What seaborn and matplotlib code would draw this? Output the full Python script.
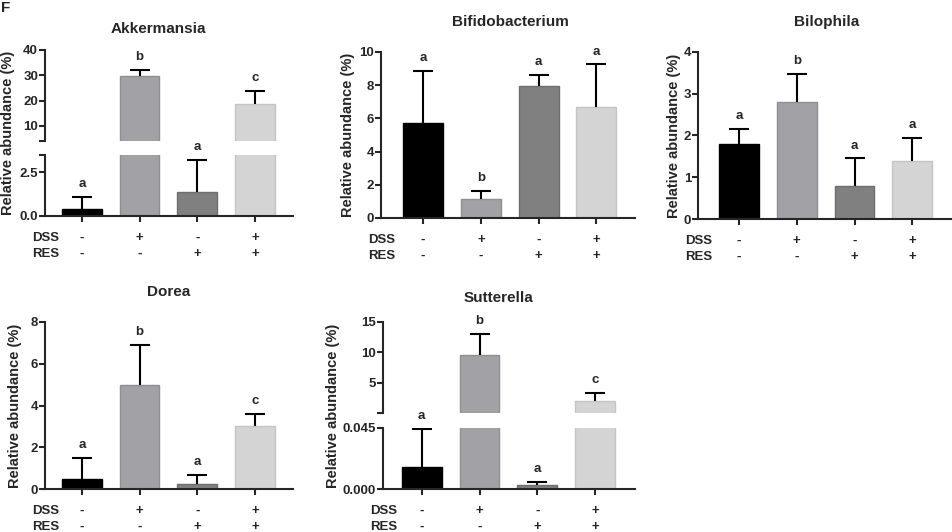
import matplotlib.pyplot as plt
import seaborn as sns
import numpy as np

# groups: control, DSS, RES, DSS+RES
conditions = ['ctrl', 'DSS', 'RES', 'DSS+RES']
dss_signs = ['-', '+', '-', '+']
res_signs = ['-', '-', '+', '+']
bar_colors = ['#000000', '#a1a1a6', '#808080', '#d4d4d4']
edge_colors = ['#000000', '#8e8e93', '#6e6e6e', '#c4c4c4']

# mean and upper SD
akk_mean = [0.4, 29.7, 1.4, 18.5]
akk_sd = [0.7, 2.3, 1.8, 5.3]
akk_letters = ['a', 'b', 'a', 'c']

bifi_mean = [5.75, 1.15, 7.95, 6.7]
bifi_sd = [3.1, 0.5, 0.65, 2.55]
bifi_letters = ['a', 'b', 'a', 'a']

bilo_mean = [1.8, 2.8, 0.8, 1.4]
bilo_sd = [0.35, 0.67, 0.65, 0.55]
bilo_letters = ['a', 'b', 'a', 'a']

dorea_mean = [0.5, 5.0, 0.25, 3.0]
dorea_sd = [1.0, 1.9, 0.4, 0.6]
dorea_letters = ['a', 'b', 'a', 'c']

sutt_mean = [0.0165, 9.5, 0.003, 1.95]
sutt_sd = [0.0275, 3.5, 0.0024, 1.35]
sutt_letters = ['a', 'b', 'a', 'c']

W, H = 952, 532
FONT = 'Liberation Sans'

sns.set_style('ticks')
plt.rcParams['font.family'] = [FONT, 'DejaVu Sans']
plt.rcParams['font.weight'] = 'bold'


def rect(l, t, r, b):
    # pixel box -> figure fraction
    return [l / W, 1 - b / H, (r - l) / W, (b - t) / H]


def draw_segment(fig, box, xlim, ylim, ticks, ticklabels, mean, sd, bottom):
    ax = fig.add_axes(rect(*box))
    ax.set_facecolor('none')
    sns.barplot(x=conditions, y=mean, hue=conditions, order=conditions,
                hue_order=conditions, palette=bar_colors, legend=False,
                width=0.69, saturation=1, errorbar=None, linewidth=1, ax=ax)
    for p, ec, m in zip(ax.patches, edge_colors, mean):
        p.set_edgecolor(ec)
        if m <= ylim[0]:
            p.set_visible(False)
    # only the error bars that reach into this segment, upper cap only
    idx = [i for i in range(4) if mean[i] + sd[i] > ylim[0] and mean[i] < ylim[1]]
    m = np.array(mean)[idx]
    e = np.array(sd)[idx]
    eb = ax.errorbar(idx, m, yerr=[np.zeros(len(idx)), e], fmt='none',
                     ecolor='black', elinewidth=1.5, capsize=7, capthick=1.5, zorder=3)
    eb[1][0].set_visible(False)
    ax.set_xlim(xlim)
    ax.set_ylim(ylim)
    ax.set_yticks(ticks)
    ax.set_yticklabels(ticklabels, fontsize=9.5, fontweight='bold')
    ax.set_xlabel('')
    ax.set_ylabel('')
    for s in ['top', 'right']:
        ax.spines[s].set_visible(False)
    ax.spines['left'].set_linewidth(1.5)
    ax.spines['bottom'].set_linewidth(1.5)
    ax.tick_params(axis='y', width=1.5, length=4, pad=1)
    if bottom:
        ax.set_xticks(range(4))
        ax.set_xticklabels([''] * 4)
        ax.tick_params(axis='x', width=1.5, length=4)
    else:
        ax.spines['bottom'].set_visible(False)
        ax.set_xticks([])
    return ax


def draw_panel(fig, title, title_xy, ylab_x, segments, xlim, mean, sd, letters):
    axes = []
    for i, (box, ylim, ticks, labels) in enumerate(segments):
        axes.append((draw_segment(fig, box, xlim, ylim, ticks, labels, mean, sd, i == 0), ylim))
    # group letters above the error bars
    for i in range(4):
        top = mean[i] + sd[i]
        for ax, ylim in axes:
            if ylim[0] <= top <= ylim[1]:
                ax.annotate(letters[i], xy=(i, top), xytext=(0, 5), textcoords='offset points',
                            ha='center', va='bottom', fontsize=9.5, fontweight='bold')
                break
    # DSS / RES rows under the lowest axes
    ax0 = axes[0][0]
    for txt, signs, dy in [('DSS', dss_signs, -15.5), ('RES', res_signs, -27.5)]:
        ax0.annotate(txt, xy=(0, 0), xycoords='axes fraction', xytext=(10, dy),
                     textcoords='offset points', ha='right', va='center',
                     fontsize=9.5, fontweight='bold')
        for i, s in enumerate(signs):
            ax0.annotate(s, xy=(i, 0), xycoords=('data', 'axes fraction'), xytext=(0, dy),
                         textcoords='offset points', ha='center', va='center',
                         fontsize=9.5, fontweight='bold')
    fig.text(title_xy[0] / W, 1 - title_xy[1] / H, title, ha='center', va='center',
             fontsize=11, fontweight='bold')
    top_px = min(seg[0][1] for seg in segments)
    bot_px = max(seg[0][3] for seg in segments)
    fig.text(ylab_x / W, 1 - (top_px + bot_px) / 2 / H, 'Relative abundance (%)',
             rotation=90, ha='center', va='center', fontsize=10.5, fontweight='bold')


fig = plt.figure(figsize=(9.52, 5.32), dpi=100)

draw_panel(fig, 'Akkermansia', (158, 29), 8,
           [((45, 155, 293, 216), (0, 3.5), [0, 2.5, 3.5], ['0.0', '2.5', '']),
            ((45, 50, 293, 141), (4, 40), [4, 10, 20, 30, 40], ['', '10', '20', '30', '40'])],
           (-0.64, 3.66), akk_mean, akk_sd, akk_letters)

draw_panel(fig, 'Bifidobacterium', (510, 22), 348,
           [((381, 52, 635, 218), (0, 10), [0, 2, 4, 6, 8, 10], ['0', '2', '4', '6', '8', '10'])],
           (-0.73, 3.67), bifi_mean, bifi_sd, bifi_letters)

draw_panel(fig, 'Bilophila', (827, 22), 674,
           [((698, 52, 951, 219), (0, 4), [0, 1, 2, 3, 4], ['0', '1', '2', '3', '4'])],
           (-0.71, 3.67), bilo_mean, bilo_sd, bilo_letters)

draw_panel(fig, 'Dorea', (169, 292), 15,
           [((45, 322, 293, 489), (0, 8), [0, 2, 4, 6, 8], ['0', '2', '4', '6', '8'])],
           (-0.64, 3.66), dorea_mean, dorea_sd, dorea_letters)

draw_panel(fig, 'Sutterella', (498, 298), 333,
           [((383, 428, 635, 489), (0, 0.045), [0, 0.045], ['0.000', '0.045']),
            ((383, 322, 635, 413), (0.05, 15), [0.05, 5, 10, 15], ['', '5', '10', '15'])],
           (-0.67, 3.69), sutt_mean, sutt_sd, sutt_letters)

fig.text(0.001, 0.999, 'F', ha='left', va='top', fontsize=11, fontweight='bold')

fig.savefig('out.png', dpi=100)
